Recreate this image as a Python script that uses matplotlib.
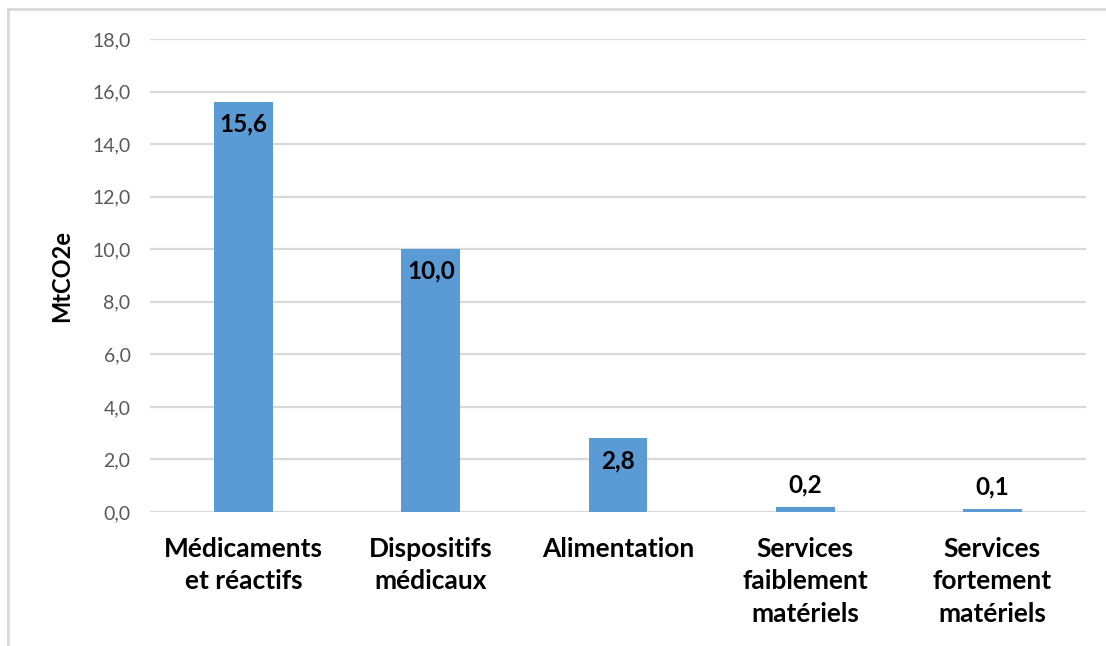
import matplotlib.pyplot as plt
from matplotlib.lines import Line2D

# Data
categories = ["Médicaments\net réactifs", "Dispositifs\nmédicaux", "Alimentation",
              "Services\nfaiblement\nmatériels", "Services\nfortement\nmatériels"]
values = [15.6, 10.0, 2.8, 0.2, 0.1]
yticks = [0, 2, 4, 6, 8, 10, 12, 14, 16, 18]

plt.rcParams['font.family'] = ['Lato', 'DejaVu Sans']

fig = plt.figure(figsize=(11.06, 6.46), dpi=100)
ax = fig.add_axes([150 / 1106, 1 - 512 / 646, 936 / 1106, 473 / 646])

x = range(len(categories))
ax.bar(x, values, width=0.315, color="#5b9bd5", zorder=3)

# Data labels
for i, v in zip(x, values):
    label = f"{v:.1f}".replace(".", ",")
    if v > 1:
        ax.text(i, v - 0.4, label, ha="center", va="top", fontsize=17.5,
                fontweight="bold", color="black", zorder=4)
    else:
        ax.text(i, v + 0.4, label, ha="center", va="bottom", fontsize=17.5,
                fontweight="bold", color="black", zorder=4)

ax.set_xlim(-0.5, len(categories) - 0.5)
ax.set_ylim(0, 18)
ax.set_yticks(yticks)
ax.set_yticklabels([f"{t:.1f}".replace(".", ",") for t in yticks],
                   fontsize=14, color="#595959")
ax.set_xticks(list(x))
ax.set_xticklabels(categories, fontsize=19, fontweight="bold", color="black",
                   linespacing=1.42, va="top")
ax.tick_params(axis="both", length=0)
ax.tick_params(axis="y", pad=14)
ax.tick_params(axis="x", pad=18)

ax.grid(axis="y", color="#d9d9d9", linewidth=1.6, zorder=0)
for s in ax.spines.values():
    s.set_visible(False)

ax.set_ylabel("MtCO2e", fontsize=17, fontweight="bold", labelpad=14)

# Chart frame (partially visible)
fig.add_artist(Line2D([8 / 1106, 8 / 1106], [0, 1 - 9 / 646], color="#d9d9d9", linewidth=2))
fig.add_artist(Line2D([8 / 1106, 1], [1 - 9 / 646, 1 - 9 / 646], color="#d9d9d9", linewidth=2))

fig.savefig("out.png", dpi=100, facecolor="white")
